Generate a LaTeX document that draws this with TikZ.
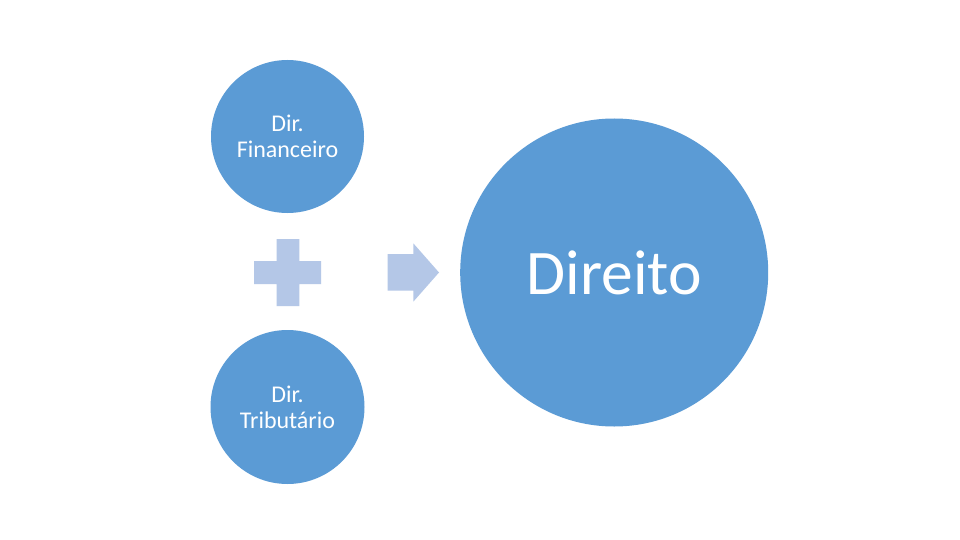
\documentclass[tikz,border=0pt]{standalone}
\usepackage{fontspec}
\setmainfont{Carlito}
\definecolor{circblue}{HTML}{5B9BD5}
\definecolor{lightblue}{HTML}{B4C7E7}
\tikzset{
  bubble/.style={circle, fill=circblue, draw=none, text=white, align=center, inner sep=0pt},
  smalltxt/.style={font=\fontsize{24}{25.7}\selectfont},
  bigtxt/.style={font=\fontsize{63.5}{70}\selectfont},
  sign/.style={fill=lightblue, draw=none}
}
\begin{document}
\begin{tikzpicture}[x=1pt,y=-1pt]
\useasboundingbox[fill=white] (0,0) rectangle (960,540);
\node[bubble, smalltxt, minimum size=153] (fin) at (287.5,136.5) {Dir.\\Financeiro};
\node[bubble, smalltxt, minimum size=154] (trib) at (287.5,407) {Dir.\\Tributário};
\node[bubble, bigtxt, minimum size=308] (dir) at (614.2,272.5) {Direito};
% plus sign
\fill[sign] (276.7,239) -- (299.3,239) -- (299.3,261) -- (321,261) -- (321,284) -- (299.3,284)
  -- (299.3,306) -- (276.7,306) -- (276.7,284) -- (254,284) -- (254,261) -- (276.7,261) -- cycle;
% arrow
\fill[sign] (387.7,254) -- (413.3,254) -- (413.3,243.3) -- (439,272.5) -- (413.3,301.7)
  -- (413.3,290.7) -- (387.7,290.7) -- cycle;
\end{tikzpicture}
\end{document}
